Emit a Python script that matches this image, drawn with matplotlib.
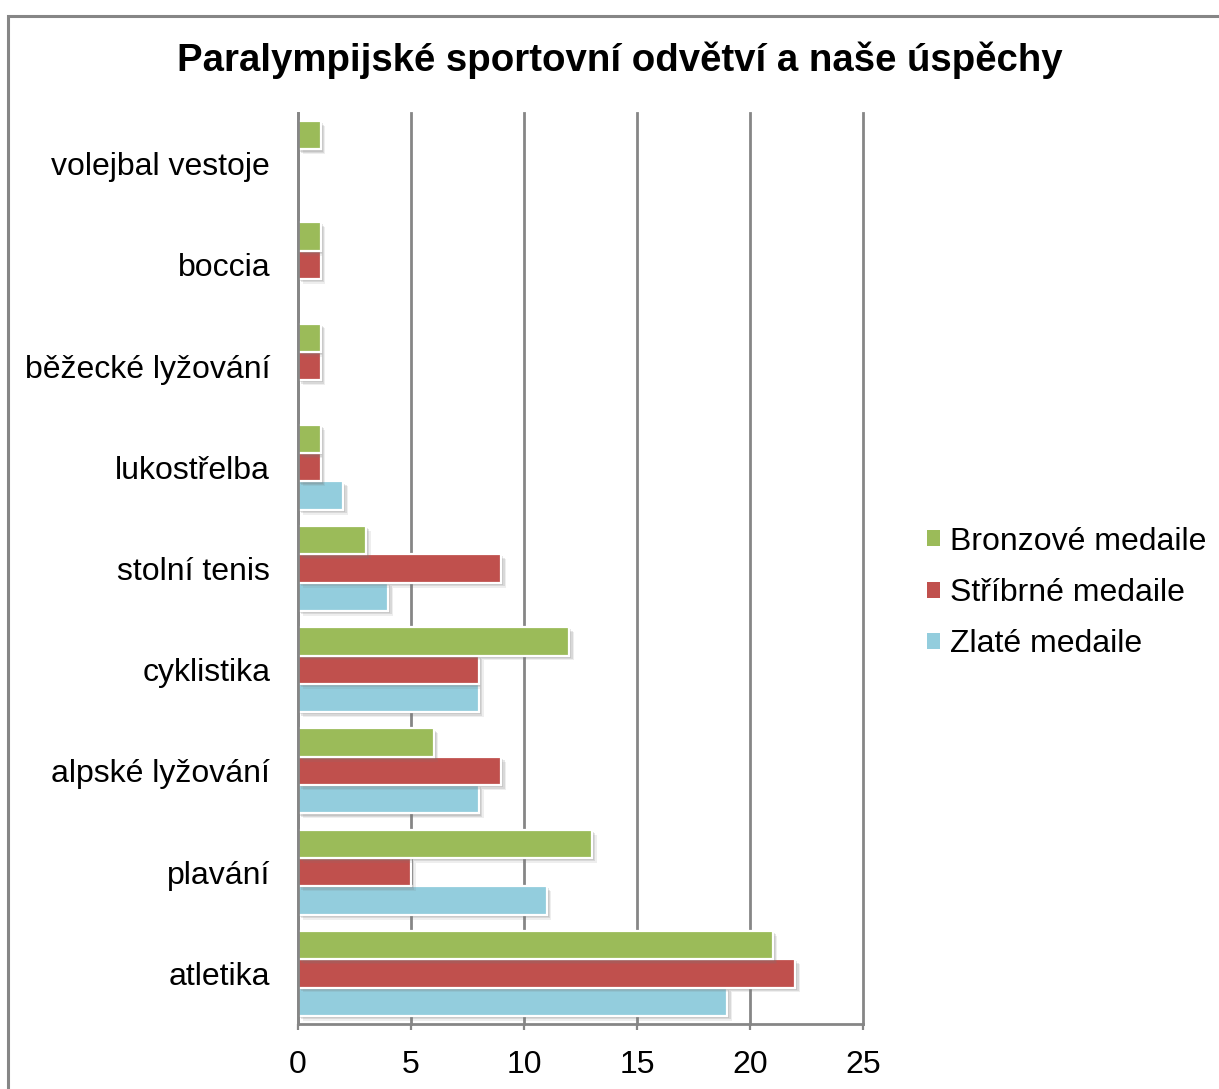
import matplotlib
matplotlib.use("Agg")
import matplotlib.pyplot as plt
import matplotlib.patheffects as pe
from matplotlib.patches import Rectangle
import numpy as np

plt.rcParams['font.family'] = ['Liberation Sans', 'DejaVu Sans']

categories = ["atletika", "plavání", "alpské lyžování", "cyklistika", "stolní tenis",
              "lukostřelba", "běžecké lyžování", "boccia", "volejbal vestoje"]
zlate = [19, 11, 8, 8, 4, 2, 0, 0, 0]
stribrne = [22, 5, 9, 8, 9, 1, 1, 1, 0]
bronzove = [21, 13, 6, 12, 3, 1, 1, 1, 1]
series_names = ["Zlaté medaile", "Stříbrné medaile", "Bronzové medaile"]
colors = ["#93CDDD", "#C0504D", "#9BBB59"]
ticks = [0, 5, 10, 15, 20, 25]

W, H = 1219, 1089
fig = plt.figure(figsize=(W / 100, H / 100), dpi=100)
fig.patch.set_facecolor("white")

# outer chart frame (open to the right and bottom)
frame = Rectangle((7.5 / W, -0.05), 1.2, 1 - 15.5 / H + 0.05, transform=fig.transFigure,
                  fill=False, edgecolor="#868686", linewidth=2.2)
fig.add_artist(frame)

left, right, top, bottom = 298, 863, 113, 1024
ax = fig.add_axes([left / W, 1 - bottom / H, (right - left) / W, (bottom - top) / H])

y = np.arange(len(categories))
bh = 0.28
# soft drop shadow built from a few stacked translucent layers
shadow = [pe.SimplePatchShadow(offset=(3.5, -3.5), shadow_rgbFace="#777777", alpha=0.12),
          pe.SimplePatchShadow(offset=(2.5, -2.5), shadow_rgbFace="#777777", alpha=0.18),
          pe.SimplePatchShadow(offset=(1.5, -1.5), shadow_rgbFace="#777777", alpha=0.2),
          pe.Normal()]
for i, (vals, col, name) in enumerate(zip([zlate, stribrne, bronzove], colors, series_names)):
    offs = (i - 1) * bh
    bars = ax.barh(y + offs, vals, height=bh, color=col, edgecolor="white",
                   linewidth=1.6, label=name, zorder=3)
    for b, v in zip(bars, vals):
        if v > 0:
            b.set_path_effects(shadow)
        else:
            b.set_visible(False)

ax.set_xlim(0, 25)
ax.set_ylim(-0.5, len(categories) - 0.5)
ax.set_xticks(ticks)
ax.set_xticklabels([str(t) for t in ticks])
ax.set_yticks(y)
ax.set_yticklabels(categories)
ax.tick_params(axis="y", length=0, pad=20, labelsize=23)
ax.tick_params(axis="x", length=4, width=1.6, color="#868686", direction="out",
               pad=15, labelsize=23)
ax.grid(axis="x", color="#868686", linewidth=2, zorder=1)
for gl in ax.get_xgridlines():
    gl.set_clip_on(False)
for s in ["top", "right"]:
    ax.spines[s].set_visible(False)
for s in ["left", "bottom"]:
    ax.spines[s].set_color("#868686")
    ax.spines[s].set_linewidth(2)
    ax.spines[s].set_zorder(4)

handles, labels = ax.get_legend_handles_labels()
leg = fig.legend(handles[::-1], labels[::-1], loc="center left",
                 bbox_to_anchor=(898 / W, 1 - 593 / H), frameon=False,
                 fontsize=23, handlelength=0.4, handleheight=0.4,
                 handletextpad=0.32, labelspacing=0.67)
for h in leg.legend_handles:
    h.set_edgecolor("none")
    h.set_path_effects([])

fig.text(620 / W, 1 - 60 / H, "Paralympijské sportovní odvětví a naše úspěchy",
         ha="center", va="center", fontsize=27.6, fontweight="bold")

fig.savefig("out.png", dpi=100, facecolor="white")
